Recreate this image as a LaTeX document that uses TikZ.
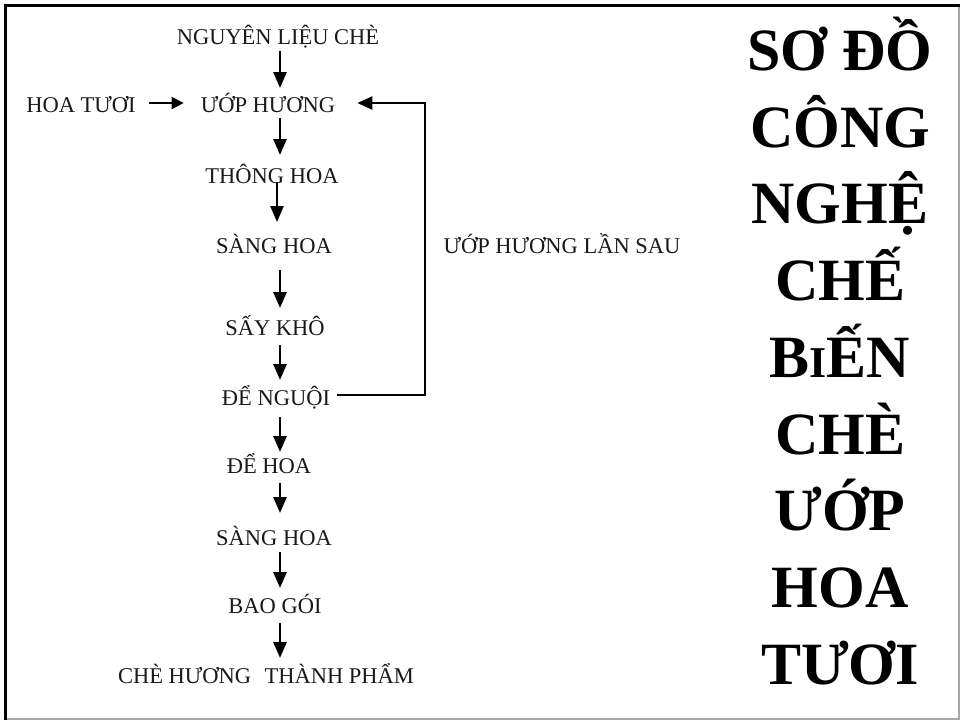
\documentclass[tikz,border=0pt]{standalone}
\usepackage{fontspec}
\setmainfont{Liberation Serif}
\usetikzlibrary{arrows.meta,calc}

\begin{document}
\begin{tikzpicture}[x=1pt,y=-1pt,
  lbl/.style={anchor=base, inner sep=0pt, text=black!90, font=\fontsize{22.5}{22.5}\selectfont},
  ttl/.style={anchor=base, inner sep=0pt, font=\fontsize{60}{60}\selectfont\bfseries},
  flow/.style={line width=2.6pt, -{Triangle[length=16pt,width=13pt]}},
  feed/.style={line width=2pt, -{Triangle[length=12pt,width=12pt]}},
]
\useasboundingbox (0,0) rectangle (961,721);
\fill[white] (0,0) rectangle (961,721);

% frame
\draw[gray!70, line width=1.5pt] (5.5,719) -- (959,719) -- (959,5.5);
\draw[black, line width=3pt] (5.5,720) -- (5.5,5.5) -- (959.5,5.5);

% column of process steps
\coordinate (ax) at (280,0);
\coordinate (loop) at (425,0);

\node[lbl] (src)    at (278,44)  {NGUYÊN LIỆU CHÈ};
\node[lbl] (hoa)    at (81,112)  {HOA TƯƠI};
\node[lbl] (uop)    at (268,112) {ƯỚP HƯƠNG};
\node[lbl] (thong)  at (272,183) {THÔNG HOA};
\node[lbl] (sang1)  at (274,253) {SÀNG HOA};
\node[lbl] (say)    at (275,335) {SẤY KHÔ};
\node[lbl] (nguoi)  at (276,405) {ĐỂ NGUỘI};
\node[lbl] (dehoa)  at (269,473) {ĐỂ HOA};
\node[lbl] (sang2)  at (274,545) {SÀNG HOA};
\node[lbl] (bao)    at (275,613) {BAO GÓI};
\node[lbl] (che)    at (266,683) {CHÈ HƯƠNG\hspace{0.6em}THÀNH PHẨM};
\node[lbl] (lansau) at (562,253) {ƯỚP HƯƠNG LẦN SAU};

% downward arrows
\draw[flow] ($(src.base -| ax)+(0,7)$)    -- ($(uop.base -| ax)+(0,-24)$);
\draw[flow] ($(uop.base -| ax)+(0,6)$)    -- ($(thong.base -| ax)+(0,-28)$);
\draw[flow] ($(thong.base -| ax)+(-3,-1)$) -- ($(sang1.base -| ax)+(-3,-31)$);
\draw[flow] ($(sang1.base -| ax)+(0,17)$) -- ($(say.base -| ax)+(0,-27)$);
\draw[flow] ($(say.base -| ax)+(0,10)$)   -- ($(nguoi.base -| ax)+(0,-25)$);
\draw[flow] ($(nguoi.base -| ax)+(0,12)$) -- ($(dehoa.base -| ax)+(0,-21)$);
\draw[flow] ($(dehoa.base -| ax)+(0,10)$) -- ($(sang2.base -| ax)+(0,-32)$);
\draw[flow] ($(sang2.base -| ax)+(0,7)$)  -- ($(bao.base -| ax)+(0,-25)$);
\draw[flow] ($(bao.base -| ax)+(0,10)$)   -- ($(che.base -| ax)+(0,-25)$);

% fresh flowers feed
\draw[feed] ($(hoa.base -| hoa.east)+(13,-9)$) -- ($(uop.base -| uop.west)+(-17,-9)$);

% repeated scenting loop
\coordinate (lstart) at ($(nguoi.base -| nguoi.east)+(7,-10)$);
\coordinate (ltip) at ($(uop.base -| uop.east)+(22,-9)$);
\draw[line width=2.2pt, -{Triangle[length=15pt,width=13pt]}]
  (lstart) -- (lstart -| loop) -- (ltip -| loop) -- (ltip);

% title
\node[ttl] (t1) at (840,70)   {SƠ ĐỒ};
\node[ttl] (t2) at (840,147)  {CÔNG};
\node[ttl] (t3) at (840,223)  {NGHỆ};
\node[ttl] (t4) at (840,300)  {CHẾ};
\node[ttl] (t5) at (840,377)  {B{\fontsize{44}{44}\selectfont I}ẾN};
\node[ttl] (t6) at (840,454)  {CHÈ};
\node[ttl] (t7) at (840,530)  {ƯỚP};
\node[ttl] (t8) at (840,607)  {HOA};
\node[ttl] (t9) at (840,684)  {TƯƠI};
\end{tikzpicture}
\end{document}
